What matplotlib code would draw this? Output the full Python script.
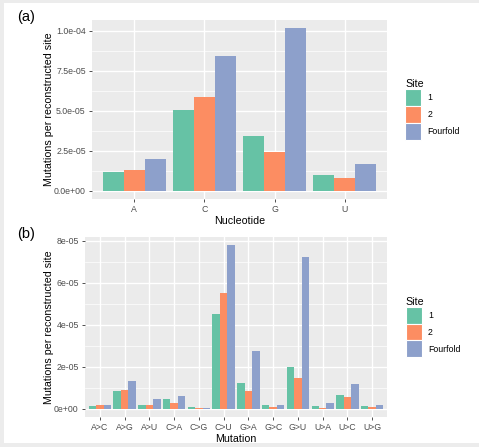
import numpy as np
import matplotlib.pyplot as plt
from matplotlib.patches import Patch, Rectangle

# Data
nucleotides = ['A', 'C', 'G', 'U']
nuc_site1 = [1.20e-5, 5.05e-5, 3.46e-5, 1.01e-5]
nuc_site2 = [1.30e-5, 5.86e-5, 2.44e-5, 0.81e-5]
nuc_fourfold = [2.00e-5, 8.45e-5, 1.017e-4, 1.66e-5]

mutations = ['A>C', 'A>G', 'A>U', 'C>A', 'C>G', 'C>U',
             'G>A', 'G>C', 'G>U', 'U>A', 'U>C', 'U>G']
mut_site1 = [1.3e-6, 8.6e-6, 1.6e-6, 4.5e-6, 0.95e-6, 45.0e-6,
             12.4e-6, 1.75e-6, 19.9e-6, 1.3e-6, 6.8e-6, 1.4e-6]
mut_site2 = [1.9e-6, 9.1e-6, 1.6e-6, 2.7e-6, 0.5e-6, 55.2e-6,
             8.4e-6, 1.1e-6, 14.5e-6, 0.6e-6, 5.6e-6, 1.1e-6]
mut_fourfold = [1.75e-6, 13.2e-6, 4.8e-6, 5.9e-6, 0.6e-6, 77.8e-6,
                27.4e-6, 1.9e-6, 72.3e-6, 2.7e-6, 11.6e-6, 1.75e-6]

sites = ['1', '2', 'Fourfold']
colors = ['#66C2A5', '#FC8D62', '#8DA0CB']

a_ticks = [0, 2.5e-5, 5e-5, 7.5e-5, 1e-4]
a_labels = ['0.0e+00', '2.5e-05', '5.0e-05', '7.5e-05', '1.0e-04']
b_ticks = [0, 2e-5, 4e-5, 6e-5, 8e-5]
b_labels = ['0e+00', '2e-05', '4e-05', '6e-05', '8e-05']

plt.rcParams['font.family'] = ['Liberation Sans', 'DejaVu Sans']
small = 6.3   # tick labels, legend labels
title = 7.7   # axis titles, legend title

fig = plt.figure(figsize=(4.79, 4.47), dpi=100, facecolor='#ececec')
fig.patches.append(Rectangle((4 / 479, 4 / 447), 475 / 479, 440 / 447,
                             transform=fig.transFigure, facecolor='white',
                             edgecolor='none', zorder=-1))


def gg_panel(ax, cats, series, ticks, labels, xlabel):
    n = len(cats)
    x = np.arange(1, n + 1)
    w = 0.3
    for i, (vals, c) in enumerate(zip(series, colors)):
        ax.bar(x + (i - 1) * w, vals, width=w, color=c, zorder=3)
    ymax = max(max(s) for s in series)
    ax.set_ylim(-0.05 * ymax, 1.05 * ymax)
    ax.set_xlim(0.4, n + 0.6)
    ax.set_facecolor('#EBEBEB')
    for s in ax.spines.values():
        s.set_visible(False)
    ax.set_yticks(ticks)
    ax.set_yticklabels(labels)
    ax.set_yticks([(a + b) / 2 for a, b in zip(ticks[:-1], ticks[1:])], minor=True)
    ax.set_xticks(x)
    ax.set_xticklabels(cats)
    ax.grid(which='major', color='white', linewidth=1.0, zorder=0)
    ax.grid(which='minor', axis='y', color='white', linewidth=0.5, zorder=0)
    ax.set_axisbelow(True)
    ax.tick_params(which='major', length=2.5, width=0.6, color='#333333',
                   labelsize=small, labelcolor='#4D4D4D', pad=2)
    ax.tick_params(which='minor', length=0)
    ax.set_xlabel(xlabel, fontsize=title, labelpad=1)
    ax.set_ylabel('Mutations per reconstructed site', fontsize=title, labelpad=0)
    handles = [Patch(facecolor=c, edgecolor='white', linewidth=0.8) for c in colors]
    leg = ax.legend(handles, sites, title='Site', loc='center left',
                    bbox_to_anchor=(1.05, 0.5), frameon=False, fontsize=small,
                    title_fontsize=title, handlelength=1.85, handleheight=2.6,
                    labelspacing=0.0, handletextpad=0.7, borderaxespad=0)
    leg._legend_box.align = 'left'


ax1 = fig.add_axes([92 / 479, 1 - 199 / 447, 295 / 479, 179 / 447])
gg_panel(ax1, nucleotides, [nuc_site1, nuc_site2, nuc_fourfold],
         a_ticks, a_labels, 'Nucleotide')

ax2 = fig.add_axes([85 / 479, 1 - 417 / 447, 302 / 479, 180 / 447])
gg_panel(ax2, mutations, [mut_site1, mut_site2, mut_fourfold],
         b_ticks, b_labels, 'Mutation')

fig.text(17 / 479, 1 - 17 / 447, '(a)', fontsize=10.5, va='center', ha='left')
fig.text(17 / 479, 1 - 234 / 447, '(b)', fontsize=10.5, va='center', ha='left')

fig.savefig('out.png', dpi=100, facecolor=fig.get_facecolor())
